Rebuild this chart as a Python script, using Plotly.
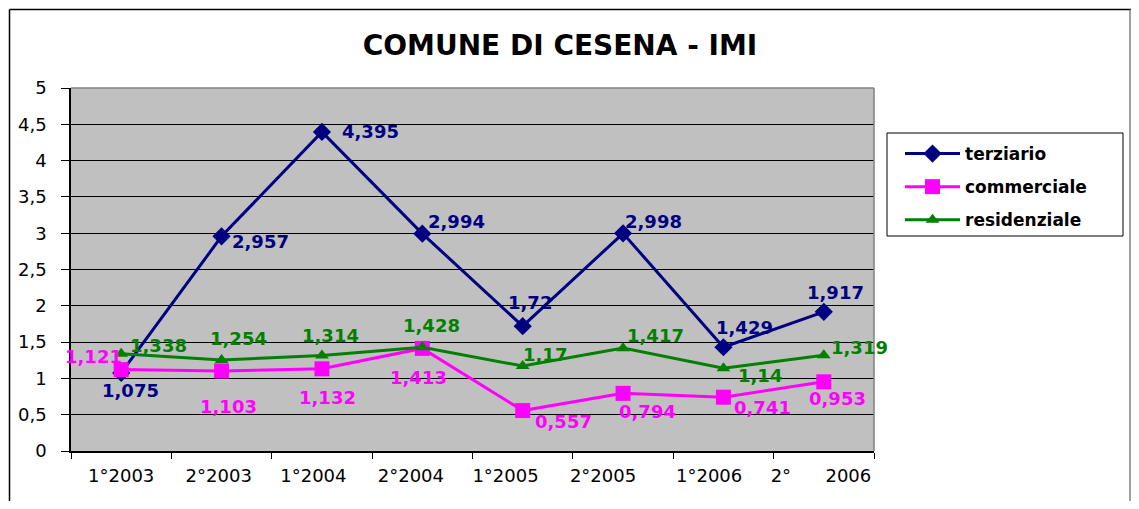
import plotly.graph_objects as go

# ---- data ----
categories = ["1°2003", "2°2003", "1°2004", "2°2004", "1°2005", "2°2005", "1°2006", "2° 2006"]
NB = "\u00a0"
tick_labels = ["1°2003", "2°2003", "1°2004", "2°2004", "1°2005", "2°2005", "1°2006",
               "2°" + NB * 6 + "2006"]
terziario = [1.075, 2.957, 4.395, 2.994, 1.72, 2.998, 1.429, 1.917]
commerciale = [1.121, 1.103, 1.132, 1.413, 0.557, 0.794, 0.741, 0.953]
residenziale = [1.338, 1.254, 1.314, 1.428, 1.17, 1.417, 1.14, 1.319]
y_ticks = [0, 0.5, 1, 1.5, 2, 2.5, 3, 3.5, 4, 4.5, 5]

# styling: trailing padding to mimic the reference's slight leftward drift of labels
label_pad = [0, 1, 3, 4, 6, 7, 5, 1]
# label offsets in px (dx right, dy down) - styling only
off_terz = [(9, 18), (39, 5), (49, 0), (34, -12), (7, -24), (30, -12), (21, -20), (12, -19)]
off_comm = [(-28, -13), (7, 36), (6, 29), (-4, 29), (41, 11), (24, 18), (39, 10), (14, 17)]
off_resi = [(37, -8), (17, -21), (9, -20), (9, -22), (22, -12), (32, -13), (37, 7), (36, -8)]

NAVY = "#000080"
MAG = "#FF00FF"
GRN = "#008000"

def fmt(v):
    s = ("%.3f" % v).rstrip("0").rstrip(".")
    return s.replace(".", ",")

fig = go.Figure()
series = [
    ("terziario", terziario, NAVY, "diamond", 14, off_terz),
    ("commerciale", commerciale, MAG, "square", 15, off_comm),
    ("residenziale", residenziale, GRN, "triangle-up", 12, off_resi),
]
for name, vals, col, sym, msize, offs in series:
    fig.add_trace(go.Scatter(
        x=categories, y=vals, name=name, mode="lines+markers",
        legendgroup=name,
        line=dict(color=col, width=3),
        marker=dict(symbol=sym, size=msize, color=col),
    ))

annotations = []
for name, vals, col, sym, msize, offs in series:
    for c, v, (dx, dy) in zip(categories, vals, offs):
        annotations.append(dict(
            x=c, y=v, xref="x", yref="y", text="<b>%s</b>" % fmt(v), showarrow=False,
            xshift=dx, yshift=-dy,
            font=dict(family="DejaVu Sans", size=18, color=col),
        ))

# page has an 8px body margin: figure coords = page coords - 8
OFF = 8
FW, FH = 1139 - OFF, 509 - 2 * OFF
# plot area in page px: left 71, right 874, top 88, bottom 451
L, R, T, B = 71, 874, 88, 451
W, H = R - L, B - T
def px(xp):
    return (xp - L) / W
def py(yp):
    return (B - yp) / H

shapes = [
    # outer chart border
    dict(type="line", xref="paper", yref="paper", x0=px(9.5), x1=px(9.5), y0=py(9.5), y1=py(520),
         line=dict(color="#000000", width=1.5)),
    dict(type="line", xref="paper", yref="paper", x0=px(9.5), x1=px(1138), y0=py(9.5), y1=py(9.5),
         line=dict(color="#000000", width=1.5)),
    dict(type="line", xref="paper", yref="paper", x0=px(1130), x1=px(1130), y0=py(9.5), y1=py(520),
         line=dict(color="#808080", width=1.5)),
    # plot area top and right border
    dict(type="line", xref="paper", yref="paper", x0=0, x1=1, y0=1, y1=1,
         line=dict(color="#808080", width=1.5)),
    dict(type="line", xref="paper", yref="paper", x0=1, x1=1, y0=0, y1=1,
         line=dict(color="#808080", width=1.5)),
    # legend box
    dict(type="rect", xref="paper", yref="paper", x0=px(887), x1=px(1123), y0=py(236), y1=py(133),
         line=dict(color="#000000", width=1), fillcolor="white", layer="below"),
]

fig.update_layout(
    width=FW, height=FH,
    margin=dict(l=L - OFF, r=1139 - R, t=T - OFF, b=FH - (B - OFF), autoexpand=False),
    paper_bgcolor="white",
    plot_bgcolor="#C0C0C0",
    title=dict(text="<b>COMUNE DI CESENA - IMI</b>", x=(560 - OFF) / FW, xanchor="center",
               y=1 - (45 - OFF) / FH, yanchor="middle",
               font=dict(family="DejaVu Sans", size=28, color="black")),
    xaxis=dict(
        type="category", categoryorder="array", categoryarray=categories,
        tickvals=categories, ticktext=[t + NB * p for t, p in zip(tick_labels, label_pad)],
        tickangle=0,
        tickson="boundaries", ticks="outside", ticklen=6, tickcolor="black",
        showline=True, linecolor="black", linewidth=1.5,
        showgrid=False, zeroline=False, automargin=False,
        tickfont=dict(family="DejaVu Sans", size=18, color="black"),
        ticklabelstandoff=8, range=[-0.5, 7.5],
    ),
    yaxis=dict(
        range=[0, 5], tickvals=y_ticks,
        ticktext=[("%g" % v).replace(".", ",") for v in y_ticks],
        ticks="outside", ticklen=8, tickcolor="black",
        showline=True, linecolor="black", linewidth=1.5, automargin=False,
        showgrid=True, gridcolor="#000000", gridwidth=1, zeroline=False,
        tickfont=dict(family="DejaVu Sans", size=18, color="black"),
        ticklabelstandoff=11,
    ),
    legend=dict(
        x=px(900), y=py(136), xanchor="left", yanchor="top",
        bgcolor="rgba(0,0,0,0)", borderwidth=0, itemwidth=55,
        font=dict(family="DejaVu Sans", size=17, color="black", weight="bold"),
        tracegroupgap=8,
    ),
    showlegend=True,
    annotations=annotations,
    shapes=shapes,
)

fig.write_html("out.html")
